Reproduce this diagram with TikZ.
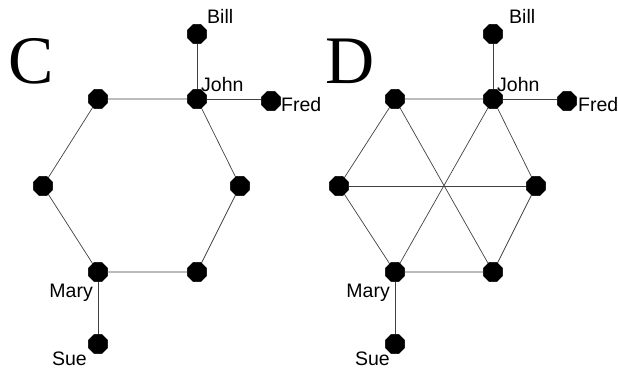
\documentclass[tikz,border=0pt]{standalone}
\usepackage{fontspec}
\setmainfont{Liberation Serif}
\newfontfamily\labelfont{Liberation Sans}
\usetikzlibrary{shapes.geometric}
\tikzset{
  person/.style={regular polygon, regular polygon sides=8, fill=black, draw=none,
    minimum size=21pt, inner sep=0pt},
  tie/.style={draw=black!75, line width=0.7pt},
  personlabel/.style={inner sep=0pt, font=\labelfont\fontsize{19.5}{20}\selectfont},
  panelletter/.style={inner sep=0pt, anchor=base west, font=\fontsize{68}{68}\selectfont}
}
\begin{document}
\begin{tikzpicture}[x=1pt, y=-1pt]
\useasboundingbox (0,0) rectangle (618,369);

% ---------- network C ----------
\node[panelletter] (lc) at (8,84) {C};
\node[person] (c1) at (98,99) {};
\node[person] (c2) at (197,99) {};
\node[person] (c3) at (240,186) {};
\node[person] (c4) at (197,272) {};
\node[person] (c5) at (98,272) {};
\node[person] (c6) at (43,186) {};
\node[person] (cb) at (197,34) {};
\node[person] (cf) at (271,101) {};
\node[person] (cs) at (98,344) {};
\draw[tie] (c1.center) -- (c2.center) -- (c3.center) -- (c4.center) -- (c5.center) -- (c6.center) -- (c1.center);
\draw[tie] (c2.center) -- (cb.center);
\draw[tie] (c2.center) -- (c2.center -| cf.center);
\draw[tie] (c5.center) -- (cs.center);
\foreach \n in {c1,c2,c3,c4,c5,c6,cb,cf,cs} \node[person] at (\n) {};
\node[personlabel, anchor=base west] (tbc) at (207,24) {Bill};
\node[personlabel, anchor=base west] (tjc) at (201,92) {John};
\node[personlabel, anchor=base west] (tfc) at (281,111) {Fred};
\node[personlabel, anchor=base east] (tmc) at (93,297) {Mary};
\node[personlabel, anchor=base east] (tsc) at (87,365) {Sue};

% ---------- network D ----------
\node[panelletter] (ld) at (325,84) {D};
\node[person] (d1) at (395,99) {};
\node[person] (d2) at (493,99) {};
\node[person] (d3) at (536,186) {};
\node[person] (d4) at (493,272) {};
\node[person] (d5) at (395,272) {};
\node[person] (d6) at (339,186) {};
\node[person] (db) at (493,34) {};
\node[person] (df) at (567,101) {};
\node[person] (ds) at (395,344) {};
\draw[tie] (d1.center) -- (d2.center) -- (d3.center) -- (d4.center) -- (d5.center) -- (d6.center) -- (d1.center);
\draw[tie] (d1.center) -- (d4.center);
\draw[tie] (d2.center) -- (d5.center);
\draw[tie] (d3.center) -- (d6.center);
\draw[tie] (d2.center) -- (db.center);
\draw[tie] (d2.center) -- (d2.center -| df.center);
\draw[tie] (d5.center) -- (ds.center);
\foreach \n in {d1,d2,d3,d4,d5,d6,db,df,ds} \node[person] at (\n) {};
\node[personlabel, anchor=base west] (tbd) at (509,24) {Bill};
\node[personlabel, anchor=base west] (tjd) at (497,92) {John};
\node[personlabel, anchor=base west] (tfd) at (578,111) {Fred};
\node[personlabel, anchor=base east] (tmd) at (390,297) {Mary};
\node[personlabel, anchor=base east] (tsd) at (390,365) {Sue};
\end{tikzpicture}
\end{document}
